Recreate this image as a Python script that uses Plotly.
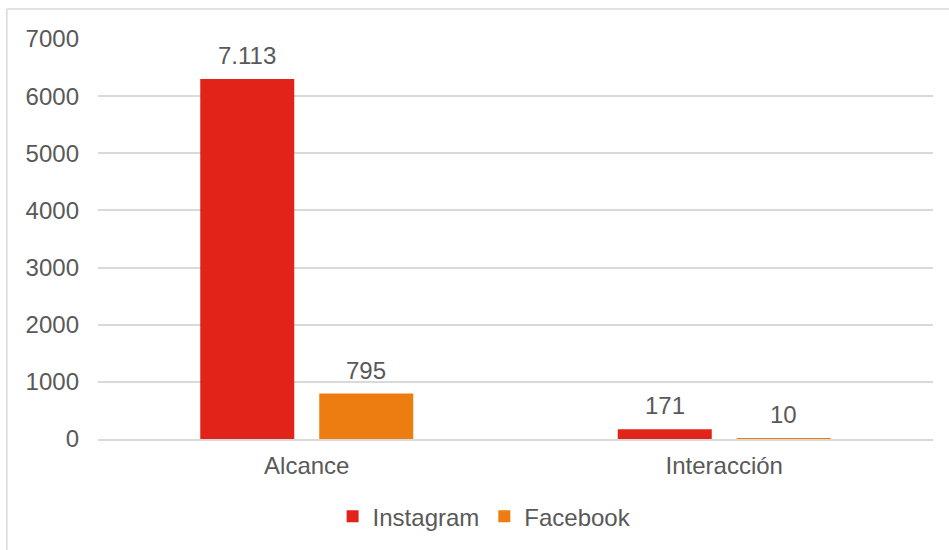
import plotly.graph_objects as go

categories = ["Alcance", "Interacción"]
instagram_values = [6300, 171]
facebook_values = [795, 10]
instagram_labels = ["7.113", "171"]
facebook_labels = ["795", "10"]
y_ticks = [0, 1000, 2000, 3000, 4000, 5000, 6000, 7000]

RED = "#E2231A"
ORANGE = "#EE7D11"
TEXT = "#595959"
GRID = "#D9D9D9"
FONT = "Liberation Sans, Arial, sans-serif"
FS = 24

fig = go.Figure()
fig.add_trace(go.Bar(name="Instagram", x=categories, y=instagram_values,
                     marker=dict(color=RED, line=dict(width=0))))
fig.add_trace(go.Bar(name="Facebook", x=categories, y=facebook_values,
                     marker=dict(color=ORANGE, line=dict(width=0))))

annotations = []
for cat, v, lab in zip(categories, instagram_values, instagram_labels):
    annotations.append(dict(x=cat, y=v, text=lab, showarrow=False, xref="x", yref="y",
                            xshift=-59.5, yanchor="bottom", yshift=8,
                            font=dict(size=FS, color=TEXT, family=FONT)))
for cat, v, lab in zip(categories, facebook_values, facebook_labels):
    annotations.append(dict(x=cat, y=v, text=lab, showarrow=False, xref="x", yref="y",
                            xshift=59.5, yanchor="bottom", yshift=8,
                            font=dict(size=FS, color=TEXT, family=FONT)))

fig.update_layout(
    width=949, height=550,
    margin=dict(l=98, r=16, t=39, b=110),
    paper_bgcolor="white", plot_bgcolor="white",
    font=dict(family=FONT, size=FS, color=TEXT),
    barmode="group", bargap=0.43, bargroupgap=0.21,
    showlegend=True,
    legend=dict(orientation="h", x=0.463, xanchor="center", y=-0.135, yanchor="top",
                font=dict(size=FS, color=TEXT), itemwidth=30,
                bgcolor="rgba(0,0,0,0)"),
    annotations=annotations,
    shapes=[dict(type="line", xref="paper", yref="paper", x0=-0.1092, x1=1.2, y0=1.0748, y1=1.0748,
                 line=dict(color=GRID, width=1.5)),
            dict(type="line", xref="paper", yref="paper", x0=-0.1092, x1=-0.1092, y0=1.0748, y1=-0.5,
                 line=dict(color=GRID, width=1.5))],
)
fig.update_xaxes(showgrid=False, showline=True, linecolor=GRID, linewidth=1.5,
                 ticks="", tickfont=dict(size=FS, color=TEXT), ticklabelstandoff=4)
fig.update_yaxes(range=[0, 7000], tickvals=y_ticks, showgrid=True, gridcolor=GRID, gridwidth=1.5,
                 zeroline=False, showline=False, ticks="",
                 tickfont=dict(size=FS, color=TEXT), ticklabelstandoff=18)

fig.write_html("out.html")
